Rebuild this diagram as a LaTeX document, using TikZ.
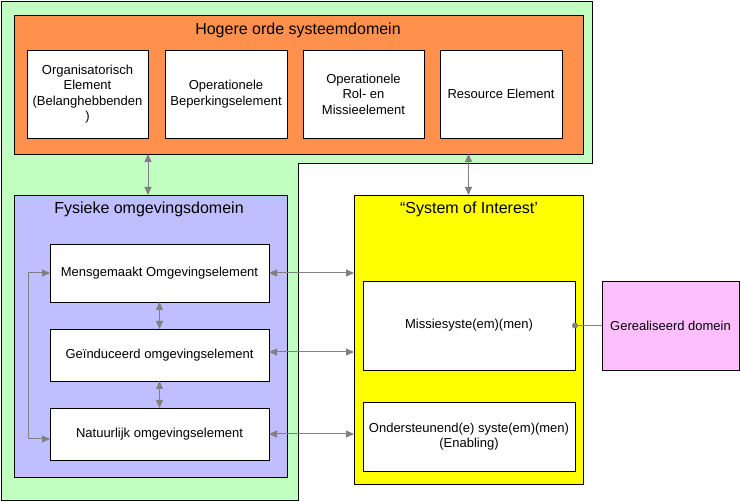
\documentclass[tikz,border=0pt]{standalone}
\usepackage{fontspec}
\setmainfont{Liberation Sans}
\usetikzlibrary{arrows.meta}
\definecolor{envgreen}{RGB}{192,255,192}
\definecolor{hoorange}{RGB}{255,145,77}
\definecolor{fysblue}{RGB}{191,191,255}
\definecolor{soiyellow}{RGB}{255,255,0}
\definecolor{realpink}{RGB}{255,191,255}
\definecolor{conngray}{RGB}{128,128,128}
\tikzset{
  frame/.style={draw=black, line width=0.9pt, inner sep=0pt, outer sep=0pt},
  elem/.style={frame, fill=white, align=center, font=\fontsize{13}{15.5}\selectfont},
  ttl/.style={font=\fontsize{16}{18}\selectfont, inner sep=0pt},
  conn/.style={draw=conngray, line width=1pt, {Triangle[length=8pt,width=7pt]}-{Triangle[length=8pt,width=7pt]}},
  plainconn/.style={draw=conngray, line width=1pt}
}
\begin{document}
\begin{tikzpicture}[x=1pt,y=-1pt]
\useasboundingbox (0,0) rectangle (740,502);
% environment (green) region
\draw[fill=envgreen, line width=0.9pt] (1,1) -- (592,1) -- (592,163) -- (298,163) -- (298,500) -- (1,500) -- cycle;
% higher order domain
\node[frame, fill=hoorange, minimum width=569pt, minimum height=139pt] (ho) at (298.5,84.5) {};
\node[ttl] (hot) at (298,30) {Hogere orde systeemdomein};
\node[elem, minimum width=121pt, minimum height=88pt] (e1) at (87.5,94) {Organisatorisch\\Element\\(Belanghebbenden\\)};
\node[elem, minimum width=122pt, minimum height=88pt] (e2) at (226,94) {Operationele\\Beperkingselement};
\node[elem, minimum width=121pt, minimum height=88pt] (e3) at (363.5,94) {Operationele\\Rol- en\\Missieelement};
\node[elem, minimum width=122pt, minimum height=88pt] (e4) at (501,94) {Resource Element};
% physical environment domain
\node[frame, fill=fysblue, minimum width=273pt, minimum height=282pt] (fys) at (150.5,336) {};
\node[ttl] (fyst) at (149,209) {Fysieke omgevingsdomein};
\node[elem, minimum width=219pt, minimum height=58pt] (m) at (159.5,273) {Mensgemaakt Omgevingselement};
\node[elem, minimum width=219pt, minimum height=52pt] (g) at (159.5,355) {Geïnduceerd omgevingselement};
\node[elem, minimum width=219pt, minimum height=52pt] (n) at (159.5,434) {Natuurlijk omgevingselement};
% system of interest
\node[frame, fill=soiyellow, minimum width=229pt, minimum height=289pt] (soi) at (468.5,339.5) {};
\node[ttl] (soit) at (469,209) {“System of Interest’};
\node[elem, minimum width=212pt, minimum height=89pt] (ms) at (469,325.5) {Missiesyste(em)(men)};
\node[elem, minimum width=212pt, minimum height=69pt] (os) at (469,436.5) {Ondersteunend(e) syste(em)(men)\\(Enabling)};
% realised domain
\node[elem, fill=realpink, minimum width=137pt, minimum height=89pt] (gd) at (670.5,325.5) {Gerealiseerd domein};
% connectors
\coordinate (xa) at (148,0);
\coordinate (xl) at (28,0);
\draw[conn] (ho.south -| xa) -- (fys.north -| xa);
\draw[conn] (ho.south -| soi.north) -- (soi.north);
\draw[conn] (m.south) -- (g.north);
\draw[conn] (g.south) -- (n.north);
\draw[conn] (m.west) -- (m.west -| xl) |- ([yshift=-5pt]n.west);
\draw[conn] (m.east) -- (m.east -| soi.west);
\draw[conn] ([yshift=3pt]g.east) -- ([yshift=3pt]g.east -| soi.west);
\draw[conn] (n.east) -- (n.east -| soi.west);
\draw[plainconn] (ms.east) -- (gd.west);
\fill[conngray] (ms.east) circle (3pt);
\end{tikzpicture}
\end{document}
